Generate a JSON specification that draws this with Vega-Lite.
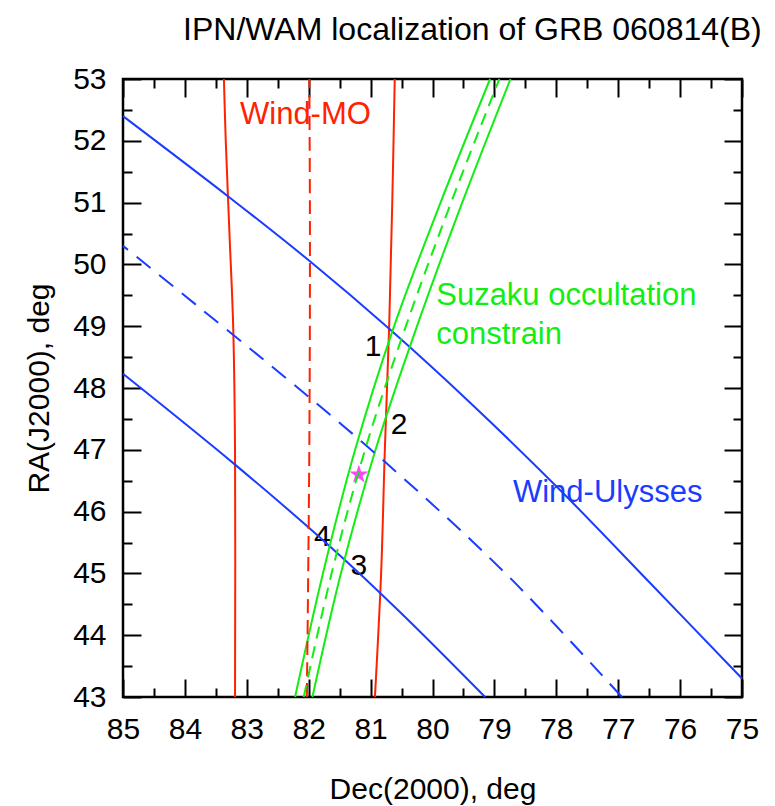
{
  "$schema": "https://vega.github.io/schema/vega-lite/v6.json",
  "width": 619,
  "height": 618,
  "autosize": "none",
  "padding": {"left": 123, "top": 79, "right": 33, "bottom": 109},
  "background": "white",
  "title": {
    "text": "IPN/WAM localization of GRB 060814(B)",
    "anchor": "end",
    "offset": 17,
    "dx": 3,
    "font": "Liberation Sans",
    "fontSize": 32,
    "fontWeight": "normal",
    "color": "black"
  },
  "config": {
    "view": {"stroke": "black", "strokeWidth": 2.5},
    "axis": {
      "grid": false,
      "domain": false,
      "tickColor": "black",
      "tickWidth": 2,
      "labelFont": "Liberation Sans",
      "labelFontSize": 30,
      "labelColor": "black",
      "labelFlush": false,
      "titleFont": "Liberation Sans",
      "titleFontSize": 30,
      "titleFontWeight": "normal",
      "titleColor": "black"
    }
  },
  "datasets": {
    "lines": [
      {"group": "Wind-MO", "line": "mo_a", "dash": "solid", "dec": 83.37, "ra": 53.0},
      {"group": "Wind-MO", "line": "mo_a", "dash": "solid", "dec": 83.34, "ra": 52.0},
      {"group": "Wind-MO", "line": "mo_a", "dash": "solid", "dec": 83.28, "ra": 50.5},
      {"group": "Wind-MO", "line": "mo_a", "dash": "solid", "dec": 83.22, "ra": 49.0},
      {"group": "Wind-MO", "line": "mo_a", "dash": "solid", "dec": 83.19, "ra": 47.0},
      {"group": "Wind-MO", "line": "mo_a", "dash": "solid", "dec": 83.19, "ra": 43.0},
      {"group": "Wind-MO", "line": "mo_b", "dash": "solid", "dec": 80.61, "ra": 53.0},
      {"group": "Wind-MO", "line": "mo_b", "dash": "solid", "dec": 80.65, "ra": 51.0},
      {"group": "Wind-MO", "line": "mo_b", "dash": "solid", "dec": 80.70, "ra": 49.0},
      {"group": "Wind-MO", "line": "mo_b", "dash": "solid", "dec": 80.77, "ra": 47.0},
      {"group": "Wind-MO", "line": "mo_b", "dash": "solid", "dec": 80.83, "ra": 45.0},
      {"group": "Wind-MO", "line": "mo_b", "dash": "solid", "dec": 80.93, "ra": 43.0},
      {"group": "Wind-MO", "line": "mo_c", "dash": "dashed", "dec": 81.99, "ra": 53.0},
      {"group": "Wind-MO", "line": "mo_c", "dash": "dashed", "dec": 81.98, "ra": 50.5},
      {"group": "Wind-MO", "line": "mo_c", "dash": "dashed", "dec": 81.99, "ra": 47.0},
      {"group": "Wind-MO", "line": "mo_c", "dash": "dashed", "dec": 82.03, "ra": 43.0},
      {"group": "Wind-Ulysses", "line": "wu_a", "dash": "solid", "dec": 85.0, "ra": 52.40},
      {"group": "Wind-Ulysses", "line": "wu_a", "dash": "solid", "dec": 83.30, "ra": 51.10},
      {"group": "Wind-Ulysses", "line": "wu_a", "dash": "solid", "dec": 81.98, "ra": 50.05},
      {"group": "Wind-Ulysses", "line": "wu_a", "dash": "solid", "dec": 80.69, "ra": 48.95},
      {"group": "Wind-Ulysses", "line": "wu_a", "dash": "solid", "dec": 79.40, "ra": 47.77},
      {"group": "Wind-Ulysses", "line": "wu_a", "dash": "solid", "dec": 77.94, "ra": 46.35},
      {"group": "Wind-Ulysses", "line": "wu_a", "dash": "solid", "dec": 76.50, "ra": 44.86},
      {"group": "Wind-Ulysses", "line": "wu_a", "dash": "solid", "dec": 75.0, "ra": 43.30},
      {"group": "Wind-Ulysses", "line": "wu_b", "dash": "dashed", "dec": 85.0, "ra": 50.30},
      {"group": "Wind-Ulysses", "line": "wu_b", "dash": "dashed", "dec": 81.98, "ra": 47.84},
      {"group": "Wind-Ulysses", "line": "wu_b", "dash": "dashed", "dec": 80.47, "ra": 46.54},
      {"group": "Wind-Ulysses", "line": "wu_b", "dash": "dashed", "dec": 78.75, "ra": 44.93},
      {"group": "Wind-Ulysses", "line": "wu_b", "dash": "dashed", "dec": 76.94, "ra": 43.0},
      {"group": "Wind-Ulysses", "line": "wu_c", "dash": "solid", "dec": 85.0, "ra": 48.23},
      {"group": "Wind-Ulysses", "line": "wu_c", "dash": "solid", "dec": 83.19, "ra": 46.76},
      {"group": "Wind-Ulysses", "line": "wu_c", "dash": "solid", "dec": 81.66, "ra": 45.44},
      {"group": "Wind-Ulysses", "line": "wu_c", "dash": "solid", "dec": 80.53, "ra": 44.38},
      {"group": "Wind-Ulysses", "line": "wu_c", "dash": "solid", "dec": 79.15, "ra": 43.0},
      {"group": "Suzaku", "line": "sz_a", "dash": "solid", "dec": 79.07, "ra": 53.0},
      {"group": "Suzaku", "line": "sz_a", "dash": "solid", "dec": 79.87, "ra": 51.0},
      {"group": "Suzaku", "line": "sz_a", "dash": "solid", "dec": 80.62, "ra": 49.0},
      {"group": "Suzaku", "line": "sz_a", "dash": "solid", "dec": 81.25, "ra": 47.0},
      {"group": "Suzaku", "line": "sz_a", "dash": "solid", "dec": 81.77, "ra": 45.0},
      {"group": "Suzaku", "line": "sz_a", "dash": "solid", "dec": 82.22, "ra": 43.0},
      {"group": "Suzaku", "line": "sz_b", "dash": "solid", "dec": 78.74, "ra": 53.0},
      {"group": "Suzaku", "line": "sz_b", "dash": "solid", "dec": 79.52, "ra": 51.0},
      {"group": "Suzaku", "line": "sz_b", "dash": "solid", "dec": 80.25, "ra": 49.0},
      {"group": "Suzaku", "line": "sz_b", "dash": "solid", "dec": 80.92, "ra": 47.0},
      {"group": "Suzaku", "line": "sz_b", "dash": "solid", "dec": 81.48, "ra": 45.0},
      {"group": "Suzaku", "line": "sz_b", "dash": "solid", "dec": 81.94, "ra": 43.0},
      {"group": "Suzaku", "line": "sz_c", "dash": "dashed", "dec": 78.92, "ra": 53.0},
      {"group": "Suzaku", "line": "sz_c", "dash": "dashed", "dec": 79.70, "ra": 51.0},
      {"group": "Suzaku", "line": "sz_c", "dash": "dashed", "dec": 80.43, "ra": 49.0},
      {"group": "Suzaku", "line": "sz_c", "dash": "dashed", "dec": 81.09, "ra": 47.0},
      {"group": "Suzaku", "line": "sz_c", "dash": "dashed", "dec": 81.63, "ra": 45.0},
      {"group": "Suzaku", "line": "sz_c", "dash": "dashed", "dec": 82.08, "ra": 43.0}
    ],
    "numbers": [
      {"label": "1", "dec": 80.96, "ra": 48.52},
      {"label": "2", "dec": 80.54, "ra": 47.26},
      {"label": "3", "dec": 81.19, "ra": 44.98},
      {"label": "4", "dec": 81.78, "ra": 45.45}
    ],
    "star": [{"dec": 81.19, "ra": 46.60}],
    "mo_label": [{"label": "Wind-MO", "dec": 83.11, "ra": 52.27}],
    "sz_label": [
      {"label": "Suzaku occultation", "dec": 79.94, "ra": 49.34},
      {"label": "constrain", "dec": 79.94, "ra": 48.71}
    ],
    "wu_label": [{"label": "Wind-Ulysses", "dec": 78.70, "ra": 46.16}]
  },
  "resolve": {"axis": {"x": "independent", "y": "independent"}},
  "layer": [
    {
      "data": {"name": "numbers"},
      "mark": {"type": "text", "font": "Liberation Sans", "fontSize": 30, "color": "black", "align": "center", "baseline": "alphabetic"},
      "encoding": {
        "x": {"field": "dec", "type": "quantitative",
              "scale": {"domain": [75, 85], "reverse": true, "nice": false, "zero": false},
              "axis": {"orient": "bottom", "values": [75, 76, 77, 78, 79, 80, 81, 82, 83, 84, 85], "format": "d",
                       "offset": -18, "tickSize": 18, "labelPadding": 17, "title": "Dec(2000), deg", "titlePadding": 30}},
        "y": {"field": "ra", "type": "quantitative",
              "scale": {"domain": [43, 53], "nice": false, "zero": false},
              "axis": {"orient": "left", "values": [43, 44, 45, 46, 47, 48, 49, 50, 51, 52, 53], "format": "d",
                       "offset": -18, "tickSize": 18, "labelPadding": 17, "title": "RA(J2000), deg", "titlePadding": 18}},
        "text": {"field": "label", "type": "nominal"}
      }
    },
    {
      "data": {"name": "star"},
      "mark": {"type": "point", "shape": "M0,-1L0.2245,-0.309L0.9511,-0.309L0.3633,0.118L0.5878,0.809L0,0.382L-0.5878,0.809L-0.3633,0.118L-0.9511,-0.309L-0.2245,-0.309Z", "filled": true, "color": "#ff44ff", "size": 400, "opacity": 1},
      "encoding": {
        "x": {"field": "dec", "type": "quantitative",
              "axis": {"orient": "bottom", "values": [75.5, 76.5, 77.5, 78.5, 79.5, 80.5, 81.5, 82.5, 83.5, 84.5],
                       "offset": -9, "tickSize": 9, "labels": false, "title": null}},
        "y": {"field": "ra", "type": "quantitative",
              "axis": {"orient": "left", "values": [43.5, 44.5, 45.5, 46.5, 47.5, 48.5, 49.5, 50.5, 51.5, 52.5],
                       "offset": -9, "tickSize": 9, "labels": false, "title": null}}
      }
    },
    {
      "data": {"name": "mo_label"},
      "mark": {"type": "text", "font": "Liberation Sans", "fontSize": 31, "color": "#ff2200", "align": "left", "baseline": "alphabetic"},
      "encoding": {
        "x": {"field": "dec", "type": "quantitative",
              "axis": {"orient": "top", "values": [75, 76, 77, 78, 79, 80, 81, 82, 83, 84, 85],
                       "offset": -18, "tickSize": 18, "labels": false, "title": null}},
        "y": {"field": "ra", "type": "quantitative",
              "axis": {"orient": "right", "values": [43, 44, 45, 46, 47, 48, 49, 50, 51, 52, 53],
                       "offset": -18, "tickSize": 18, "labels": false, "title": null}},
        "text": {"field": "label", "type": "nominal"}
      }
    },
    {
      "data": {"name": "sz_label"},
      "mark": {"type": "text", "font": "Liberation Sans", "fontSize": 31, "color": "#11ee11", "align": "left", "baseline": "alphabetic"},
      "encoding": {
        "x": {"field": "dec", "type": "quantitative",
              "axis": {"orient": "top", "values": [75.5, 76.5, 77.5, 78.5, 79.5, 80.5, 81.5, 82.5, 83.5, 84.5],
                       "offset": -9, "tickSize": 9, "labels": false, "title": null}},
        "y": {"field": "ra", "type": "quantitative",
              "axis": {"orient": "right", "values": [43.5, 44.5, 45.5, 46.5, 47.5, 48.5, 49.5, 50.5, 51.5, 52.5],
                       "offset": -9, "tickSize": 9, "labels": false, "title": null}},
        "text": {"field": "label", "type": "nominal"}
      }
    },
    {
      "data": {"name": "wu_label"},
      "mark": {"type": "text", "font": "Liberation Sans", "fontSize": 31, "color": "#1a3cff", "align": "left", "baseline": "alphabetic"},
      "encoding": {
        "x": {"field": "dec", "type": "quantitative", "axis": null},
        "y": {"field": "ra", "type": "quantitative", "axis": null},
        "text": {"field": "label", "type": "nominal"}
      }
    },
    {
      "data": {"name": "lines"},
      "transform": [{"filter": "datum.dash === 'solid'"}],
      "mark": {"type": "line", "strokeWidth": 2, "interpolate": "catmull-rom"},
      "encoding": {
        "x": {"field": "dec", "type": "quantitative", "axis": null},
        "y": {"field": "ra", "type": "quantitative", "axis": null},
        "color": {"field": "group", "type": "nominal",
                  "scale": {"domain": ["Wind-MO", "Suzaku", "Wind-Ulysses"], "range": ["#ff2200", "#11ee11", "#1a3cff"]},
                  "legend": null},
        "detail": {"field": "line", "type": "nominal"},
        "order": {"field": "ra", "type": "quantitative"}
      }
    },
    {
      "data": {"name": "lines"},
      "transform": [{"filter": "datum.dash === 'dashed'"}],
      "mark": {"type": "line", "strokeWidth": 2, "interpolate": "catmull-rom"},
      "encoding": {
        "x": {"field": "dec", "type": "quantitative", "axis": null},
        "y": {"field": "ra", "type": "quantitative", "axis": null},
        "color": {"field": "group", "type": "nominal",
                  "scale": {"domain": ["Wind-MO", "Suzaku", "Wind-Ulysses"], "range": ["#ff2200", "#11ee11", "#1a3cff"]},
                  "legend": null},
        "strokeDash": {"field": "group", "type": "nominal",
                       "scale": {"domain": ["Wind-MO", "Suzaku", "Wind-Ulysses"], "range": [[14, 7], [12, 8], [18, 11]]},
                       "legend": null},
        "detail": {"field": "line", "type": "nominal"},
        "order": {"field": "ra", "type": "quantitative"}
      }
    }
  ]
}
